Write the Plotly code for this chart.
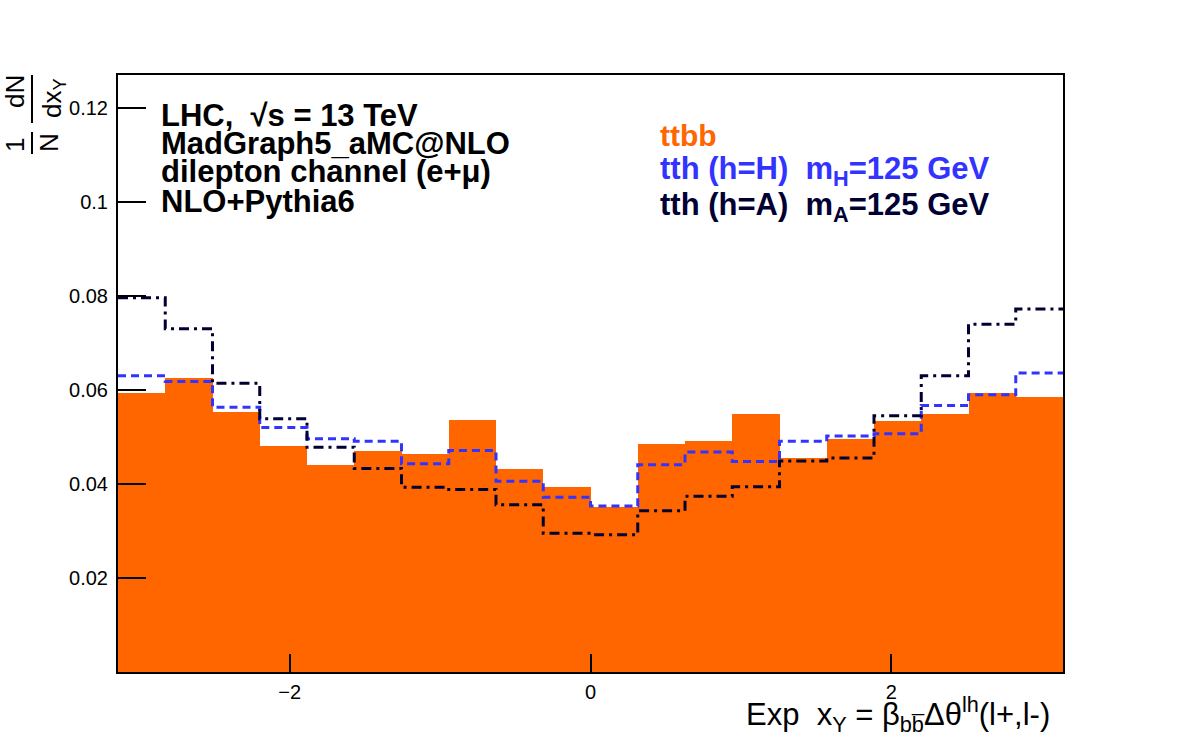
import numpy as np
import plotly.graph_objects as go

# ---------------- data ----------------
n_bins = 20
x_min, x_max = -np.pi, np.pi

ttbb = [0.0594, 0.0625, 0.0554, 0.0481, 0.0440, 0.0470, 0.0464, 0.0536, 0.0431, 0.0393,
        0.0351, 0.0485, 0.0491, 0.0549, 0.0455, 0.0496, 0.0533, 0.0548, 0.0594, 0.0584]
tth_H = [0.0630, 0.0618, 0.0563, 0.0520, 0.0496, 0.0491, 0.0443, 0.0471, 0.0406, 0.0372,
         0.0353, 0.0441, 0.0468, 0.0448, 0.0491, 0.0502, 0.0507, 0.0567, 0.0590, 0.0636]
tth_A = [0.0796, 0.0730, 0.0614, 0.0539, 0.0478, 0.0433, 0.0393, 0.0388, 0.0356, 0.0295,
         0.0292, 0.0343, 0.0374, 0.0394, 0.0449, 0.0455, 0.0545, 0.0630, 0.0740, 0.0772]

y_tickvals = [0.02, 0.04, 0.06, 0.08, 0.10, 0.12]
y_ticktext = ["0.02", "0.04", "0.06", "0.08", "0.1", "0.12"]
x_tickvals = [-2, 0, 2]

# ---------------- styles ----------------
ORANGE = "#FF6600"
BLUE = "#3333FF"
NAVY = "#000033"
FONT = "Liberation Sans, Arial, Helvetica, sans-serif"

W, H = 1182, 748
L, R, T, B = 118, 1063, 75, 672


def px(x):
    return (x - L) / (R - L)


def py(y):
    return (B - y) / (B - T)


edges = np.linspace(x_min, x_max, n_bins + 1)
centers = 0.5 * (edges[:-1] + edges[1:])
bw = edges[1] - edges[0]

fig = go.Figure()
fig.add_trace(go.Bar(x=centers, y=ttbb, width=bw, marker=dict(color=ORANGE, line=dict(width=0)),
                     showlegend=False, hoverinfo="skip"))
fig.add_trace(go.Scatter(x=edges, y=tth_H + [tth_H[-1]], mode="lines", line_shape="hv",
                         line=dict(color=BLUE, width=3, dash="8px,5px"), showlegend=False))
fig.add_trace(go.Scatter(x=edges, y=tth_A + [tth_A[-1]], mode="lines", line_shape="hv",
                         line=dict(color=NAVY, width=3, dash="10px,5px,3px,5px"), showlegend=False))

fig.update_layout(
    width=W, height=H,
    margin=dict(l=L, r=W - R, t=T, b=H - B, pad=0),
    paper_bgcolor="white", plot_bgcolor="white",
    bargap=0,
    font=dict(family=FONT, color="black"),
    xaxis=dict(range=[x_min, x_max], tickvals=x_tickvals, ticks="inside", ticklen=18, tickwidth=2,
               tickcolor="black", showline=True, mirror=True, linewidth=2, linecolor="black",
               showgrid=False, zeroline=False, tickfont=dict(size=20, family=FONT),
               ticklabelstandoff=1),
    yaxis=dict(range=[0, 0.127], tickvals=y_tickvals, ticktext=y_ticktext, ticks="inside",
               ticklen=28, tickwidth=2, tickcolor="black", showline=True, mirror=True,
               linewidth=2, linecolor="black", showgrid=False, zeroline=False,
               tickfont=dict(size=20, family=FONT), ticklabelstandoff=4),
)

ann = []
# top-left text block
for txt, yc in [("LHC,  √s = 13 TeV", 115), ("MadGraph5_aMC@NLO", 144),
                ("dilepton channel (e+μ)", 172), ("NLO+Pythia6", 201)]:
    ann.append(dict(text="<b>%s</b>" % txt, x=px(159), y=py(yc), xref="paper", yref="paper",
                    xanchor="left", yanchor="middle", showarrow=False,
                    font=dict(size=31, family=FONT, color="black")))

# legend-like text block
ann.append(dict(text="<b>ttbb</b>", x=px(658), y=py(135), xref="paper", yref="paper",
                xanchor="left", yanchor="middle", showarrow=False,
                font=dict(size=30, family=FONT, color=ORANGE)))
ann.append(dict(text="<b>tth (h=H)  m<sub>H</sub>=125 GeV</b>", x=px(658), y=py(149),
                xref="paper", yref="paper", xanchor="left", yanchor="top", showarrow=False,
                font=dict(size=31, family=FONT, color=BLUE)))
ann.append(dict(text="<b>tth (h=A)  m<sub>A</sub>=125 GeV</b>", x=px(658), y=py(185),
                xref="paper", yref="paper", xanchor="left", yanchor="top", showarrow=False,
                font=dict(size=31, family=FONT, color=NAVY)))

# x-axis title
ann.append(dict(text="Exp  x<sub>Y</sub> = β<sub>bb̅</sub>Δθ<sup>lh</sup>(l+,l-)",
                x=px(1052), y=py(690), xref="paper", yref="paper", xanchor="right",
                yanchor="top", showarrow=False, font=dict(size=31, family=FONT, color="black")))

# y-axis title (rotated fraction)
for txt, xc, yc in [("1", 15, 145), ("N", 49, 143), ("dN", 15, 92), ("dx<sub>Y</sub>", 53, 98)]:
    ann.append(dict(text=txt, x=px(xc), y=py(yc), xref="paper", yref="paper", textangle=-90,
                    xanchor="center", yanchor="middle", showarrow=False,
                    font=dict(size=26, family=FONT, color="black")))

fig.update_layout(annotations=ann)

fig.add_shape(type="line", xref="paper", yref="paper", x0=px(32), x1=px(32), y0=py(75), y1=py(123),
              line=dict(color="black", width=2))
fig.add_shape(type="line", xref="paper", yref="paper", x0=px(32), x1=px(32), y0=py(132), y1=py(154),
              line=dict(color="black", width=2))

fig.write_html("out.html")
